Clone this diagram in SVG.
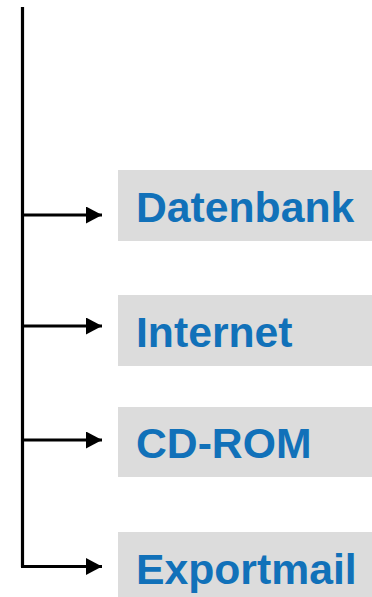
<svg xmlns="http://www.w3.org/2000/svg" width="372" height="597" viewBox="0 0 372 597">
<style>
.box{fill:#dcdcdc}
.lbl{font-family:"Liberation Sans",Arial,sans-serif;font-weight:bold;font-size:42.7px;fill:#1171b9}
.ln{stroke:#000;stroke-width:3.2;fill:none}
</style>
<defs>
<marker id="ah" markerUnits="userSpaceOnUse" markerWidth="16" markerHeight="17" refX="16" refY="8.5" orient="auto">
<path d="M0,0 L16,8.5 L0,17 Z" fill="#000"/>
</marker>
</defs>
<rect width="372" height="597" fill="#fff"/>
<g id="connectors">
<path class="ln" d="M22.5,7 V567"/>
<path class="ln" d="M22.5,215 H102" marker-end="url(#ah)"/>
<path class="ln" d="M22.5,326 H102" marker-end="url(#ah)"/>
<path class="ln" d="M22.5,440 H102" marker-end="url(#ah)"/>
<path class="ln" d="M21,566.5 H102" marker-end="url(#ah)"/>
</g>
<g id="datenbank"><rect class="box" x="118" y="170" width="260" height="71"/><text class="lbl" x="136" y="221.5">Datenbank</text></g>
<g id="internet"><rect class="box" x="118" y="295" width="260" height="71"/><text class="lbl" x="136" y="346.5">Internet</text></g>
<g id="cdrom"><rect class="box" x="118" y="407" width="260" height="70"/><text class="lbl" x="136" y="458">CD-ROM</text></g>
<g id="exportmail"><rect class="box" x="118" y="532" width="260" height="71"/><text class="lbl" x="136" y="583.5">Exportmail</text></g>
</svg>
